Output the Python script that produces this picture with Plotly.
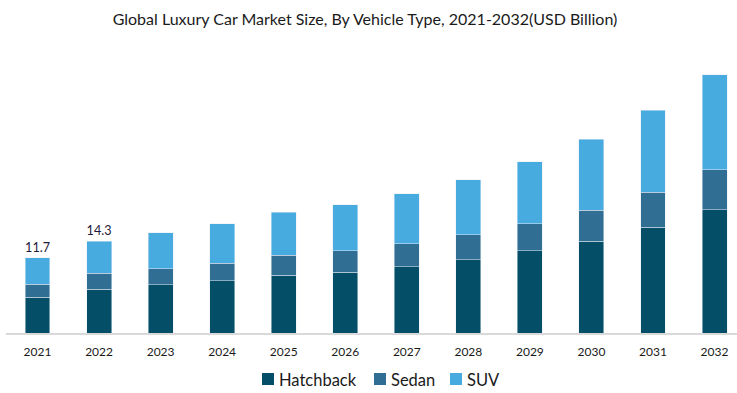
import plotly.graph_objects as go

years = ["2021", "2022", "2023", "2024", "2025", "2026", "2027", "2028", "2029", "2030", "2031", "2032"]
hatchback = [5.6, 6.8, 7.5, 8.1, 9.0, 9.5, 10.3, 11.4, 12.8, 14.3, 16.5, 19.2]
sedan = [2.0, 2.5, 2.5, 2.8, 3.1, 3.3, 3.6, 3.9, 4.2, 4.8, 5.4, 6.2]
suv = [4.1, 5.0, 5.6, 6.1, 6.7, 7.2, 7.8, 8.6, 9.7, 11.1, 12.8, 14.8]
total_labels = ["11.7", "14.3", "", "", "", "", "", "", "", "", "", ""]
series_names = ["Hatchback", "Sedan", "SUV"]
series_colors = ["#044F67", "#306F93", "#48ABE0"]

font_family = "Lato, 'Open Sans', sans-serif"
xpos = list(range(len(years)))
W, H = 737, 393
L = 6
PW = W - L

fig = go.Figure()
for name, vals, color in zip(series_names, [hatchback, sedan, suv], series_colors):
    kw = {}
    if name == "SUV":
        kw = dict(text=total_labels, textposition="outside", cliponaxis=False,
                  textfont=dict(size=14, color="#1E1A3C", family=font_family))
    fig.add_trace(go.Bar(x=xpos, y=vals, name=name, marker_color=color, width=0.405,
                         showlegend=False, **kw))

# custom legend (compact spacing like the reference)
legend_marker_x = [262, 374, 450]
shapes, annotations = [], []
for name, color, mx in zip(series_names, series_colors, legend_marker_x):
    shapes.append(dict(type="rect", xref="paper", yref="paper",
                       x0=(mx - L) / PW, x1=(mx + 12 - L) / PW,
                       y0=(333 - 385) / 273, y1=(333 - 373) / 273,
                       fillcolor=color, line=dict(width=0)))
    annotations.append(dict(text=name, xref="paper", yref="paper",
                            x=(mx + 15 - L) / PW, xanchor="left",
                            y=(333 - 379.5) / 273, yanchor="middle", showarrow=False,
                            font=dict(size=16.5, color="#1a1a1a", family=font_family)))

fig.update_layout(
    barmode="stack",
    width=W, height=H,
    margin=dict(l=L, r=0, t=60, b=60, autoexpand=False),
    paper_bgcolor="white", plot_bgcolor="white",
    font=dict(family=font_family, color="#222222"),
    title=dict(text="Global Luxury Car Market Size, By Vehicle Type, 2021-2032(USD Billion)",
               xref="container", x=365 / W, xanchor="center",
               yref="container", y=1 - 19 / H, yanchor="middle",
               font=dict(size=16, color="#1a1a1a", family=font_family)),
    xaxis=dict(range=[-0.512, 11.365], showgrid=False, zeroline=False, automargin=False,
               tickmode="array", tickvals=xpos, ticktext=years,
               showline=True, linecolor="#d9d9d9", linewidth=1.5,
               ticks="", tickfont=dict(size=12, color="#1a1a1a"), ticklabelstandoff=7),
    yaxis=dict(range=[0, 42.52], visible=False, automargin=False),
    shapes=shapes,
    annotations=annotations,
    showlegend=False,
)

fig.write_html("out.html", config={"displayModeBar": False},
               post_script="document.body.style.margin='0';document.body.style.overflow='hidden';")
